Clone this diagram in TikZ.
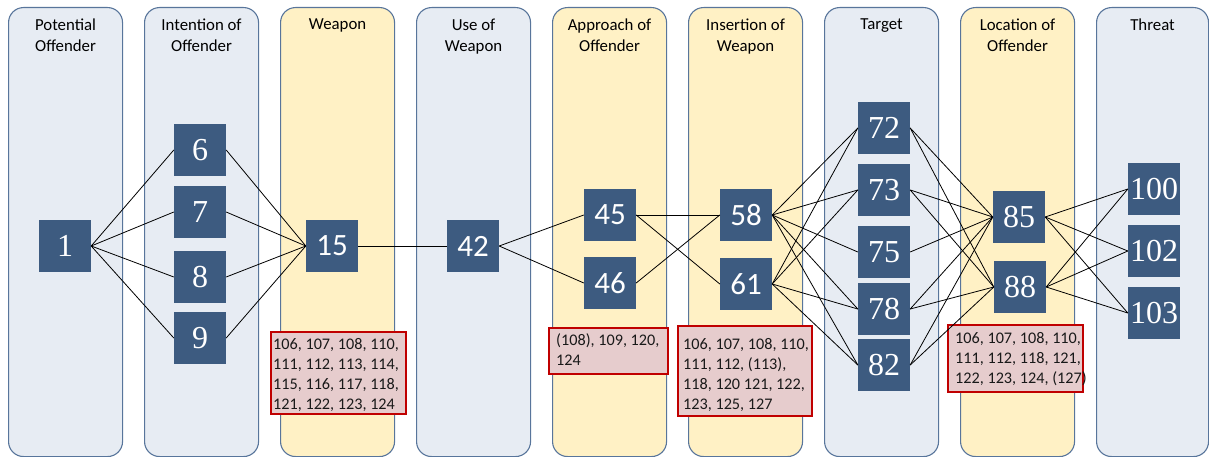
\documentclass[tikz,border=0pt]{standalone}
\usepackage{fontspec}
\newfontfamily\carl{Carlito}
\newfontfamily\tnr{Liberation Serif}
\definecolor{laneblue}{RGB}{231,236,243}
\definecolor{laneyellow}{RGB}{255,241,197}
\definecolor{laneedge}{RGB}{88,117,155}
\definecolor{nodeblue}{RGB}{61,91,128}
\definecolor{redfill}{RGB}{230,204,205}
\definecolor{redline}{RGB}{192,0,0}
\begin{document}
\begin{tikzpicture}[x=1pt,y=-1pt,
  lane/.style={draw=laneedge, line width=1.1pt, rounded corners=15pt,
    minimum width=114pt, minimum height=449pt, anchor=north west, inner sep=0pt},
  bluelane/.style={lane, fill=laneblue},
  yellowlane/.style={lane, fill=laneyellow},
  head/.style={font=\carl\fontsize{16.8}{21}\selectfont, align=center, anchor=north, inner sep=0pt},
  num/.style={fill=nodeblue, text=white, minimum width=52pt, minimum height=52pt,
    inner sep=0pt, font=\tnr\fontsize{32}{32}\selectfont},
  nums/.style={num, font=\carl\fontsize{31}{31}\selectfont},
  link/.style={draw=black, line width=0.8pt},
  refbox/.style={draw=redline, fill=redfill, line width=2.4pt, anchor=north west, inner sep=0pt},
  reftext/.style={font=\carl\fontsize{16.2}{20}\selectfont, align=left, anchor=north west,
    inner sep=0pt, text=black!90}]
\useasboundingbox (0,0) rectangle (1209,457);

% swim lanes
\node[bluelane]   (c1) at (8,7) {};
\node[bluelane]   (c2) at (144,7) {};
\node[yellowlane] (c3) at (280,7) {};
\node[bluelane]   (c4) at (416,7) {};
\node[yellowlane] (c5) at (552,7) {};
\node[yellowlane] (c6) at (688,7) {};
\node[bluelane]   (c7) at (824,7) {};
\node[yellowlane] (c8) at (960,7) {};
\node[bluelane, minimum width=112pt] (c9) at (1096,7) {};

% lane titles
\node[head] (h1) at ([yshift=-12pt]c1.north) {Potential\\Offender};
\node[head] (h2) at ([yshift=-12pt]c2.north) {Intention of\\Offender};
\node[head] (h3) at ([yshift=-12pt]c3.north) {Weapon};
\node[head] (h4) at ([yshift=-12pt]c4.north) {Use of\\Weapon};
\node[head] (h5) at ([yshift=-12pt]c5.north) {Approach of\\Offender};
\node[head] (h6) at ([yshift=-12pt]c6.north) {Insertion of\\Weapon};
\node[head] (h7) at ([yshift=-12pt]c7.north) {Target};
\node[head] (h8) at ([yshift=-12pt]c8.north) {Location of\\Offender};
\node[head] (h9) at ([yshift=-12pt]c9.north) {Threat};

% numbered steps
\node[num]  (n1)   at (65,246)   {1};
\node[num]  (n6)   at (200,150)  {6};
\node[num]  (n7)   at (200,212)  {7};
\node[num]  (n8)   at (200,277)  {8};
\node[num]  (n9)   at (200,338)  {9};
\node[nums] (n15)  at (332,246)  {15};
\node[nums] (n42)  at (473,246)  {42};
\node[nums] (n45)  at (610,215)  {45};
\node[nums] (n46)  at (610,283)  {46};
\node[nums] (n58)  at (746,215)  {58};
\node[nums] (n61)  at (746,284)  {61};
\node[num]  (n72)  at (884,128)  {72};
\node[num]  (n73)  at (884,190)  {73};
\node[num]  (n75)  at (884,252)  {75};
\node[num]  (n78)  at (884,309)  {78};
\node[num]  (n82)  at (884,365)  {82};
\node[num]  (n85)  at (1019,217) {85};
\node[num]  (n88)  at (1020,287) {88};
\node[num]  (n100) at (1154,189) {100};
\node[num]  (n102) at (1154,251) {102};
\node[num]  (n103) at (1154,313) {103};

% reference lists
\node[refbox, minimum width=135pt, minimum height=82pt] (r1) at (270,331) {};
\node[reftext] (t1) at (273,338) {106, 107, 108, 110,\\111, 112, 113, 114,\\115, 116, 117, 118,\\121, 122, 123, 124};
\node[refbox, minimum width=119pt, minimum height=46pt] (r2) at (548,327) {};
\node[reftext] (t2) at (556,333) {(108), 109, 120,\\124};
\node[refbox, minimum width=134pt, minimum height=90pt] (r3) at (677,325) {};
\node[reftext] (t3) at (683,338) {106, 107, 108, 110,\\111, 112, (113),\\118, 120 121, 122,\\123, 125, 127};
\node[refbox, minimum width=135pt, minimum height=67pt] (r4) at (947,324) {};
\node[reftext] (t4) at (955,332) {106, 107, 108, 110,\\111, 112, 118, 121,\\122, 123, 124, (127)};

% connections
\foreach \a/\b in {1/6,1/7,1/8,1/9,6/15,7/15,8/15,9/15,15/42,42/45,42/46,
    45/58,45/61,46/58,
    58/72,58/73,58/75,58/78,58/82,61/72,61/73,61/78,61/82,
    72/85,72/88,73/85,73/88,75/85,78/85,78/88,82/85,82/88,
    85/100,85/102,85/103,88/100,88/102,88/103}
  \draw[link] (n\a.east) -- (n\b.west);
\end{tikzpicture}
\end{document}
